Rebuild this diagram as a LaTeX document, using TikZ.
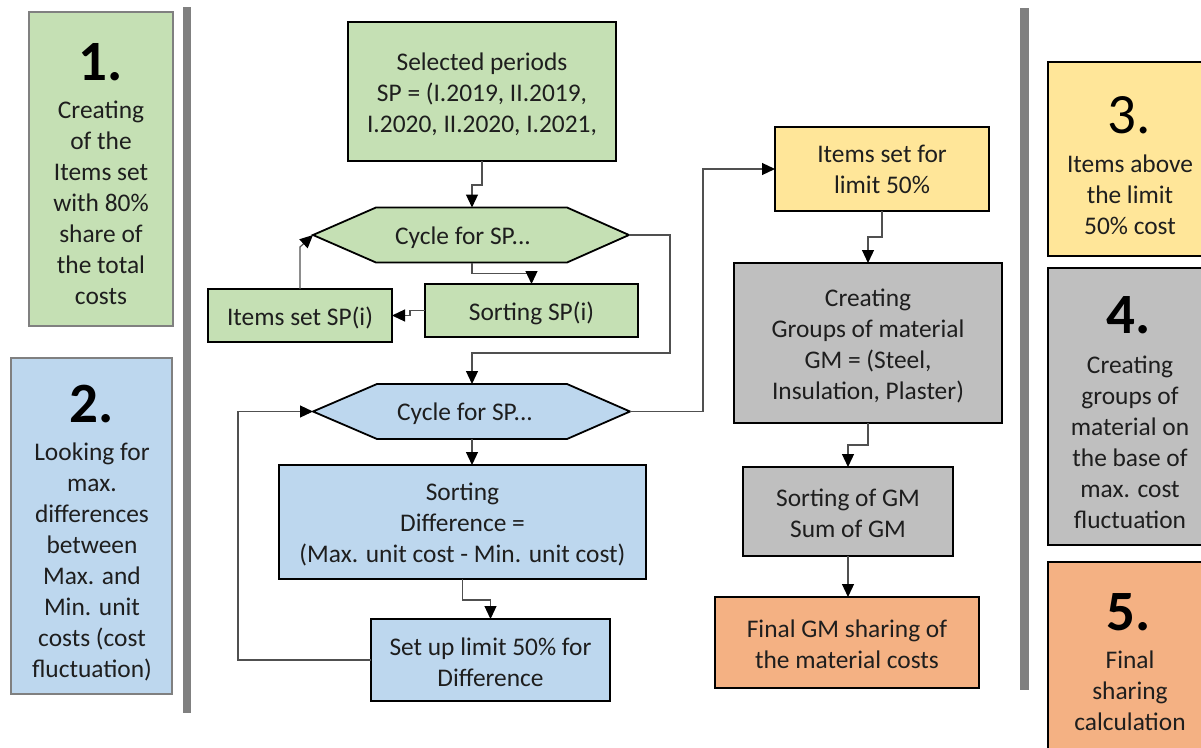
\documentclass[tikz,border=0pt]{standalone}
\usepackage{fontspec}
\setmainfont{Carlito}
\usetikzlibrary{arrows.meta,calc}
\definecolor{cgreen}{HTML}{C5E0B4}
\definecolor{cblue}{HTML}{BDD7EE}
\definecolor{cyellow}{HTML}{FFE699}
\definecolor{cgray}{HTML}{BFBFBF}
\definecolor{corange}{HTML}{F4B183}
\definecolor{cbar}{HTML}{808080}
\definecolor{ctext}{HTML}{1E1E1E}
\definecolor{cline}{HTML}{505050}
\begin{document}
\begin{tikzpicture}[x=1pt,y=-1pt,
  txt/.style={font=\fontsize{25.4pt}{31pt}\selectfont, text=ctext, align=center, inner sep=0pt},
  flow/.style={draw=black, line width=1.8pt, inner sep=0pt, outer sep=0pt},
  sidebox/.style={draw=cbar, line width=1.8pt, inner sep=0pt, outer sep=0pt},
  sideboxb/.style={draw=black, line width=1.8pt, inner sep=0pt, outer sep=0pt},
  num/.style={font=\bfseries\fontsize{57pt}{60pt}\selectfont, text=black, anchor=base, inner sep=0pt},
  numr/.style={font=\fontsize{57pt}{60pt}\selectfont, text=black, anchor=base, inner sep=0pt},
  hexshape/.style={draw=black, line width=1.8pt, line join=miter},
  conn/.style={draw=cline, line width=1.2pt, -{Triangle[length=13pt,width=12pt,color=black]}},
]
\clip (0,0) rectangle (1201,747);
\fill[white] (0,0) rectangle (1201,747);

% separator bars
\fill[cbar] (183,7) rectangle (191,713);
\fill[cbar] (1020,8) rectangle (1029,690);

% side panels left
\node[sidebox, fill=cgreen, minimum width=144pt, minimum height=314pt] (s1) at (101,169) {};
\node[num] (n1) at (101,80) {1.};
\node[txt] (d1) at (101,203) {Creating\\of the\\Items set\\with 80\%\\share of\\the total\\costs};

\node[sidebox, fill=cblue, minimum width=161pt, minimum height=336pt] (s2) at (91.5,526) {};
\node[num] (n2) at (92,422) {2.};
\node[txt] (d2) at (92,562) {Looking for\\max.\\differences\\between\\Max. and\\Min. unit\\costs (cost\\fluctuation)};

% side panels right
\node[sideboxb, fill=cyellow, minimum width=164pt, minimum height=194pt] (s3) at (1130,159) {};
\node[numr] (n3) at (1129,133) {3.};
\node[txt] (d3) at (1130,194.5) {Items above\\the limit\\50\% cost};

\node[sideboxb, fill=cgray, minimum width=164pt, minimum height=277pt] (s4) at (1130,406.5) {};
\node[num] (n4) at (1129,333) {4.};
\node[txt] (d4) at (1130,442.5) {Creating\\groups of\\material on\\the base of\\max. cost\\fluctuation};

\node[sideboxb, fill=corange, minimum width=164pt, minimum height=198pt] (s5) at (1130,661) {};
\node[num] (n5) at (1129,630) {5.};
\node[txt] (d5) at (1130,691) {Final\\sharing\\calculation};

% flowchart boxes
\node[flow, fill=cgreen, minimum width=268pt, minimum height=139pt] (sel) at (482,91.5) {};
\node[txt] (selt) at ($(sel)+(0,2.5)$) {Selected periods\\SP = (I.2019, II.2019,\\I.2020, II.2020, I.2021,};

\filldraw[hexshape, fill=cgreen] (313,235) -- (376,207.5) -- (567,207.5) -- (629,235) -- (567,262.5) -- (376,262.5) -- cycle;
\node[txt] (h1) at (463,237.5) {Cycle for SP...};
\coordinate (h1w) at (313,235);
\coordinate (h1e) at (629,235);
\coordinate (h1n) at (472,207.5);
\coordinate (h1s) at (472,262.5);

\node[flow, fill=cgreen, minimum width=213pt, minimum height=53pt] (sortsp) at (531.5,310.5) {};
\node[txt] (sortspt) at ($(sortsp)+(0,2.5)$) {Sorting SP(i)};
\node[flow, fill=cgreen, minimum width=184pt, minimum height=53pt] (items) at (300,315.5) {};
\node[txt] (itemst) at ($(items)+(0,2)$) {Items set SP(i)};

\filldraw[hexshape, fill=cblue] (313,411.5) -- (377,384) -- (567,384) -- (630,411.5) -- (567,439) -- (377,439) -- cycle;
\node[txt] (h2) at (465,413.5) {Cycle for SP...};
\coordinate (h2w) at (313,411.5);
\coordinate (h2e) at (630,411.5);
\coordinate (h2n) at (472,384);
\coordinate (h2s) at (472,439);

\node[flow, fill=cblue, minimum width=367pt, minimum height=114pt] (sortdiff) at (462.5,522) {};
\node[txt] (sortdifft) at ($(sortdiff)+(0,2)$) {Sorting\\Difference =\\(Max. unit cost - Min. unit cost)};
\node[flow, fill=cblue, minimum width=239pt, minimum height=82pt] (setup) at (490.5,660) {};
\node[txt] (setupt) at ($(setup)+(0,2.5)$) {Set up limit 50\% for\\Difference};

\node[flow, fill=cyellow, minimum width=214pt, minimum height=84pt] (lim) at (882,169) {};
\node[txt] (limt) at (lim) {Items set for\\limit 50\%};
\node[flow, fill=cgray, minimum width=268pt, minimum height=160pt] (creat) at (868,343) {};
\node[txt] (creatt) at ($(creat)+(0,2.5)$) {Creating\\Groups of material\\GM = (Steel,\\Insulation, Plaster)};
\node[flow, fill=cgray, minimum width=210pt, minimum height=89pt] (sortgm) at (848,511.5) {};
\node[txt] (sortgmt) at ($(sortgm)+(0,1.5)$) {Sorting of GM\\Sum of GM};
\node[flow, fill=corange, minimum width=264pt, minimum height=91pt] (final) at (847,642.5) {};
\node[txt] (finalt) at ($(final)+(0,1.5)$) {Final GM sharing of\\the material costs};

% connectors
\draw[conn] (sel.south) -- ++(0,24) -| (h1n);
\draw[conn] (h1s) -- ++(0,11) -| (sortsp.north);
\draw[conn] (sortsp.west) -- ++(-15,0) |- (items.east);
\draw[conn] (items.north) -- ++(0,-42) -- (h1w);
\draw[conn] (h1e) -- ++(41,0) -- ++(0,118) -| (h2n);
\draw[conn] (h2s) -- (h2s |- sortdiff.north);
\draw[conn] (sortdiff.south) -- ++(0,21) -| (setup.north);
\draw[conn] (setup.west) -- ++(-133,0) |- (h2w);
\draw[conn] (h2e) -- ++(73,0) |- (lim.west);
\draw[conn] (lim.south) -- ++(0,26) -| (creat.north);
\draw[conn] (creat.south) -- ++(0,22) -| (sortgm.north);
\draw[conn] (sortgm.south) -- (sortgm.south |- final.north);
\end{tikzpicture}
\end{document}
